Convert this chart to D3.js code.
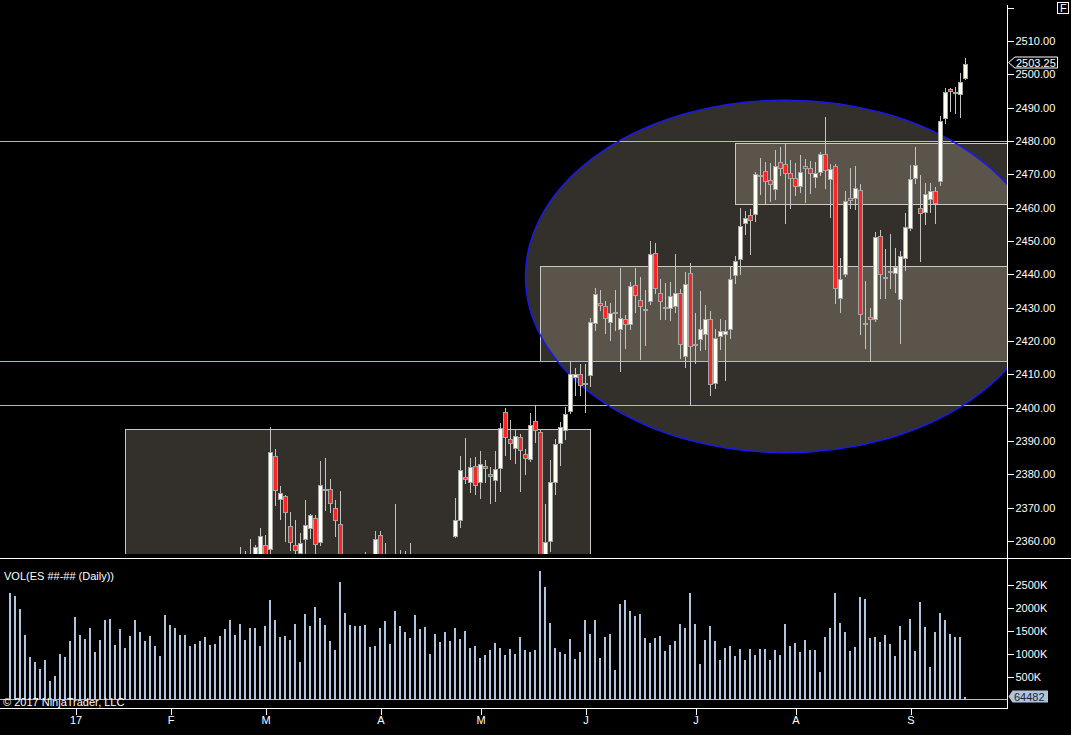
<!DOCTYPE html>
<html>
<head>
<meta charset="utf-8">
<script src="https://cdn.jsdelivr.net/npm/d3@7"></script>
<style>
  html, body { margin: 0; background: #000; overflow: hidden; }
  svg { display: block; }
  text { font-family: Arial, "Liberation Sans", sans-serif; font-size: 11px; fill: #fff; }
</style>
</head>
<body>
<svg id="chart"></svg>
<script>
// daily bars, ES ##-##, mid Dec 2016 to mid Sep 2017 (the early ones sit below the visible price range)
const opens = [
  2262, 2268, 2253, 2260, 2256, 2262, 2263, 2260, 2264, 2261,
  2262, 2250, 2248, 2238, 2255, 2264, 2263, 2272, 2266, 2265,
  2270, 2264, 2270, 2262, 2266, 2260, 2266, 2262, 2277, 2295,
  2292, 2289, 2278, 2276, 2279, 2276, 2294, 2290, 2291, 2305,
  2313, 2316, 2326, 2336, 2346, 2344, 2348, 2354, 2352, 2353,
  2355, 2358.7, 2357.5, 2385.4, 2372.7, 2373.4, 2364.4, 2358.7, 2356.3, 2360.5,
  2363.8, 2366.8, 2359.6, 2375.2, 2375.5, 2369.8, 2365, 2343, 2345, 2343,
  2338, 2339, 2353, 2352, 2361.7, 2354, 2350, 2353, 2345, 2351,
  2353, 2351, 2350, 2340, 2324, 2342, 2335, 2334, 2350, 2361.5,
  2366.2, 2379.1, 2377.6, 2382.4, 2377.6, 2382.4, 2380, 2378.2, 2382, 2398.7,
  2390.5, 2387.8, 2391.1, 2386.2, 2384.7, 2396, 2392.7, 2350, 2360.1, 2377.8,
  2389.5, 2393.2, 2398.9, 2409.2, 2410.1, 2407, 2409.9, 2425.3, 2431.3, 2430.4,
  2425.6, 2428.5, 2423.5, 2426.5, 2425, 2436.7, 2432.2, 2429.5, 2431.9, 2446.3,
  2434.3, 2430, 2429.8, 2430.4, 2434.3, 2415.4, 2440.3, 2418.9, 2420.5, 2422,
  2426.5, 2407.3, 2421.4, 2422, 2423.5, 2439.7, 2444.7, 2455.3, 2457.7, 2458.2,
  2469.5, 2470.9, 2468.2, 2465.5, 2473.6, 2473, 2470.3, 2468.8, 2466.4, 2472.4,
  2471.8, 2469.1, 2470.6, 2476, 2468.5, 2472.4, 2432.8, 2440, 2462.8, 2462.8,
  2465.2, 2425.2, 2427.1, 2426.5, 2451.4, 2439, 2440.8, 2440.3, 2432.5, 2444.8,
  2453.8, 2468.8, 2459.8, 2458.6, 2462.5, 2464.9, 2467.9, 2486.8, 2495.5, 2494.6,
  2494, 2499
];
const highs = [
  2272, 2274, 2265, 2262, 2264, 2266, 2265, 2265, 2266, 2263,
  2264, 2254, 2252, 2260, 2266, 2267, 2278, 2273, 2272, 2272,
  2271, 2272, 2271, 2268, 2268, 2272, 2268, 2280, 2297, 2298,
  2294, 2291, 2282, 2286, 2282, 2296, 2296, 2295, 2307, 2316,
  2318, 2328, 2338, 2348, 2350, 2352, 2358.3, 2357, 2360.6, 2358.8,
  2363.9, 2361.8, 2394.3, 2387.5, 2376.5, 2373.9, 2368.7, 2366.3, 2362.4, 2372.3,
  2368.1, 2367.8, 2384, 2384.9, 2378.6, 2372.3, 2375, 2348, 2352, 2353,
  2344, 2356.7, 2355, 2363, 2363, 2359.4, 2355, 2371.1, 2357.3, 2357,
  2359.4, 2354, 2352, 2344, 2345, 2346, 2347, 2352, 2353, 2372.9,
  2385.5, 2390.9, 2384.9, 2385.2, 2387, 2384.2, 2382.1, 2387, 2395.4, 2399.9,
  2396.3, 2393.3, 2392.1, 2387.6, 2398.4, 2400.8, 2393.3, 2371.1, 2384.3, 2390.6,
  2395.7, 2400.2, 2414, 2411.9, 2413.1, 2413.1, 2426.8, 2435.8, 2435.2, 2431.9,
  2431.3, 2435.2, 2441.8, 2427.7, 2437.6, 2441.8, 2439.1, 2435.2, 2449.9, 2449.3,
  2438.5, 2437.3, 2437.6, 2446, 2435.5, 2440.6, 2443.3, 2428.3, 2434.9, 2430.7,
  2428.9, 2423.5, 2426.5, 2426.2, 2442.1, 2445.4, 2459.8, 2458.9, 2459.5, 2470.6,
  2474.8, 2473.6, 2473.3, 2477.2, 2478.1, 2479.3, 2474.2, 2473.3, 2475.7, 2474.5,
  2473.9, 2473.6, 2476.6, 2487.2, 2473.2, 2473, 2444.8, 2464.9, 2471.8, 2472.4,
  2467, 2437.9, 2429.8, 2452.6, 2453.2, 2447.5, 2452, 2447.8, 2446.9, 2458.3,
  2472.7, 2478.1, 2469.7, 2467.3, 2467.3, 2466.1, 2487.4, 2495.8, 2496, 2496.3,
  2500.3, 2504.8
];
const lows = [
  2258, 2250, 2251, 2250, 2254, 2257, 2258, 2256, 2259, 2256,
  2248, 2244, 2233, 2235, 2252, 2256, 2258, 2264, 2262, 2255,
  2252, 2261, 2258, 2257, 2256, 2258, 2252, 2260, 2276, 2288,
  2285, 2268, 2266, 2271, 2270, 2274, 2280, 2283, 2289, 2303,
  2307, 2313, 2322, 2332, 2338, 2341, 2346, 2350, 2349, 2350,
  2353, 2352, 2356, 2370.8, 2366.6, 2360.1, 2357.3, 2352, 2354, 2355,
  2360.8, 2354, 2358.9, 2369.3, 2368.7, 2361.5, 2341, 2336, 2340, 2338,
  2322, 2333, 2348, 2350, 2350, 2345, 2345, 2344, 2341, 2344,
  2345, 2338, 2336, 2322, 2322, 2329, 2332, 2332, 2340, 2361.3,
  2364.3, 2377.5, 2374.8, 2374.1, 2373, 2377.8, 2371.5, 2372, 2375, 2385.8,
  2384.7, 2383.5, 2375, 2380.2, 2384, 2389.7, 2352, 2344, 2357, 2374.1,
  2382.8, 2390.6, 2398.3, 2403.8, 2403.8, 2398.7, 2406.6, 2423.2, 2429.2, 2422.3,
  2420.2, 2423.2, 2410.9, 2417.8, 2423.5, 2428.6, 2414.5, 2418.7, 2431, 2434.3,
  2426.5, 2426.5, 2426.2, 2428.6, 2414.8, 2412.1, 2400.7, 2413.3, 2417.2, 2417.5,
  2403.7, 2405.8, 2417.5, 2408.2, 2420.8, 2437.3, 2440.2, 2452, 2446.2, 2456.1,
  2464, 2461, 2461.9, 2462.5, 2469.7, 2455.3, 2459.8, 2463.7, 2464.6, 2461.6,
  2464.3, 2466.1, 2469.7, 2465.8, 2457.3, 2431.3, 2428.6, 2439.5, 2459.8, 2459.5,
  2422, 2417.8, 2414, 2426, 2432.8, 2432.8, 2435.8, 2434.6, 2419.3, 2441.2,
  2453.2, 2467.3, 2443.9, 2455, 2458.6, 2455.3, 2466.9, 2485.5, 2489.1, 2488.3,
  2487.1, 2498.6
];
const closes = [
  2268, 2252, 2260, 2256, 2262, 2263, 2260, 2264, 2261, 2262,
  2250, 2248, 2236, 2255, 2264, 2263, 2272, 2266, 2265, 2270,
  2264, 2270, 2262, 2266, 2260, 2266, 2262, 2277, 2295, 2292,
  2289, 2278, 2276, 2279, 2276, 2294, 2290, 2291, 2305, 2313,
  2316, 2326, 2336, 2346, 2344, 2348, 2354, 2352, 2355, 2358.1,
  2361.4, 2355, 2386.6, 2375.2, 2374.3, 2368.6, 2359.6, 2357.2, 2359.3, 2364.7,
  2367.7, 2359, 2376.7, 2375.6, 2371.3, 2366.2, 2343, 2345, 2343, 2341,
  2339, 2354, 2353, 2360.5, 2354, 2350, 2352, 2345, 2351, 2354,
  2352, 2350, 2340, 2324, 2343, 2335, 2334, 2350, 2346, 2366.2,
  2381.3, 2378.5, 2382.1, 2376.7, 2383, 2381.8, 2379.4, 2381.5, 2393.8, 2391.1,
  2389.3, 2391.4, 2387.2, 2384.8, 2394.7, 2393.2, 2353, 2359.7, 2377.7, 2389.2,
  2394.1, 2398.1, 2410, 2410.2, 2406.8, 2407.3, 2425.6, 2434, 2430.7, 2426.8,
  2428.3, 2428.7, 2426.8, 2425, 2436.4, 2433.7, 2430.4, 2429.7, 2446, 2435.8,
  2431.9, 2430.2, 2433.4, 2434.3, 2419, 2437, 2418.4, 2419.1, 2423.5, 2426.5,
  2407, 2420.8, 2422.9, 2422.9, 2438.5, 2443.9, 2454.5, 2456.8, 2456.2, 2470,
  2469.7, 2467.9, 2467, 2472.4, 2471.8, 2470.3, 2468.8, 2466.4, 2470.6, 2471.8,
  2470.3, 2470.3, 2476, 2471.2, 2471.5, 2435.8, 2438.5, 2461.9, 2462.2, 2465.8,
  2428, 2425.4, 2426.5, 2451.1, 2440, 2439.2, 2441, 2442.1, 2445.4, 2454.1,
  2468.5, 2472.7, 2458.3, 2464, 2464.9, 2461.3, 2485.9, 2494.8, 2495, 2494.8,
  2497.7, 2503.25
];
// volume in thousands
const volumesK = [
  2322, 2257, 1974, 1402, 924, 815, 670, 859, 402, 511,
  989, 924, 1272, 1794, 1402, 1315, 1554, 1033, 1294, 1728,
  1750, 1185, 1533, 1120, 1380, 1728, 1467, 1272, 1380, 1163,
  946, 1837, 1620, 1554, 1402, 1402, 1163, 1207, 1272, 1359,
  1185, 1207, 1380, 1533, 1728, 1402, 1641, 1294, 1554, 1554,
  1163, 1598, 2163, 1728, 1359, 1380, 1294, 1641, 815, 1859,
  1598, 2011, 1772, 1620, 1272, 1076, 2554, 1880, 1620, 1598,
  1598, 1620, 1141, 1163, 1554, 1707, 1207, 1924, 1598, 1467,
  1337, 1837, 1533, 1576, 989, 1424, 1250, 1467, 1272, 1554,
  1315, 1489, 1120, 1163, 902, 967, 1076, 1228, 1120, 967,
  1098, 989, 1359, 1076, 1033, 1076, 2793, 2446, 1663, 1120,
  1033, 989, 1315, 880, 1033, 1728, 1424, 1728, 902, 1359,
  1424, 641, 2076, 2163, 1924, 1815, 1859, 1337, 1228, 1337,
  1380, 1054, 1185, 1272, 1641, 1554, 2315, 1641, 772, 1294,
  1598, 1272, 859, 1120, 1163, 946, 1098, 859, 1098, 967,
  1098, 1098, 859, 1076, 967, 1641, 1163, 1228, 1033, 1294,
  1076, 1076, 598, 1359, 1554, 2315, 1663, 1467, 1054, 1141,
  2235, 2185, 1337, 1359, 1250, 1402, 1207, 946, 1598, 1294,
  1750, 1054, 2120, 1576, 706, 1467, 1880, 1728, 1424, 1359,
  1359, 64.482
];
const lastVolume = 64482;

// month labels and the bar they sit on
const monthBars = [13, 32, 51, 74, 94, 115, 137, 157, 180];
const monthLabels = ['17', 'F', 'M', 'A', 'M', 'J', 'J', 'A', 'S'];

const priceTicks = d3.range(2360, 2521, 10);
const volumeTicks = [500000, 1000000, 1500000, 2000000, 2500000];

// drawing objects, in bar / price units
const hLinePrices = [2480, 2414, 2400.75];
const rectFrom = [23, 106, 145];
const rectTo = [116, null, null];       // null = extends to the right edge
const rectTop = [2393.75, 2442.5, 2479.25];
const rectBottom = [2320, 2414, 2461];
const ellipseBars = [103, 207];
const ellipsePrices = [2386.5, 2492.25];

const W = 1071, H = 735;
const axisX = 1007.5;
const priceTop = 5, priceClipBottom = 554, separatorY = 558.5;
const xAxisY = 708.5;

const svg = d3.select('#chart').attr('width', W).attr('height', H);
svg.append('rect').attr('width', W).attr('height', H).attr('fill', '#000');

const x = d3.scaleLinear().domain([0, 191]).range([10.5, 965.5]);
const y = d3.scaleLinear().domain([2360, 2510]).range([541, 41]);
const yv = d3.scaleLinear().domain([0, 2500000]).range([699.5, 584.5]);

svg.append('defs').append('clipPath').attr('id', 'priceClip')
  .append('rect').attr('x', 0).attr('y', priceTop).attr('width', axisX).attr('height', priceClipBottom - priceTop);

const price = svg.append('g').attr('clip-path', 'url(#priceClip)');

// rectangles
const shadeFill = 'rgb(217,204,183)';
price.append('g').selectAll('rect').data(rectFrom).join('rect')
  .attr('x', (d) => x(d))
  .attr('y', (d, i) => Math.round(y(rectTop[i])) + 0.5)
  .attr('width', (d, i) => (rectTo[i] == null ? axisX + 5 : x(rectTo[i])) - x(d))
  .attr('height', (d, i) => Math.round(y(rectBottom[i])) - Math.round(y(rectTop[i])))
  .attr('fill', shadeFill).attr('fill-opacity', 0.235)
  .attr('stroke', '#c8c8c8').attr('stroke-width', 1)
  .attr('shape-rendering', 'crispEdges');

// horizontal lines
price.append('g').selectAll('line').data(hLinePrices).join('line')
  .attr('x1', 0).attr('x2', axisX)
  .attr('y1', (d) => Math.round(y(d)) + 0.5).attr('y2', (d) => Math.round(y(d)) + 0.5)
  .attr('stroke', '#a4b8dc').attr('stroke-width', 1)
  .attr('shape-rendering', 'crispEdges');

// ellipse
price.append('ellipse')
  .attr('cx', (x(ellipseBars[0]) + x(ellipseBars[1])) / 2)
  .attr('cy', (y(ellipsePrices[0]) + y(ellipsePrices[1])) / 2)
  .attr('rx', (x(ellipseBars[1]) - x(ellipseBars[0])) / 2)
  .attr('ry', (y(ellipsePrices[0]) - y(ellipsePrices[1])) / 2)
  .attr('fill', shadeFill).attr('fill-opacity', 0.235)
  .attr('stroke', '#1818f0').attr('stroke-width', 1.5);

// candles
const bars = d3.range(closes.length).map((i) => ({ i, o: opens[i], h: highs[i], l: lows[i], c: closes[i] }));
const candles = price.append('g').attr('shape-rendering', 'crispEdges');
candles.append('g').selectAll('line').data(bars).join('line')
  .attr('x1', (d) => x(d.i)).attr('x2', (d) => x(d.i))
  .attr('y1', (d) => Math.round(y(d.h))).attr('y2', (d) => Math.round(y(d.l)) + 1)
  .attr('stroke', '#c4c4c4');
candles.append('g').selectAll('rect').data(bars).join('rect')
  .attr('x', (d) => x(d.i) - 2)
  .attr('width', 4)
  .attr('y', (d) => Math.round(y(Math.max(d.o, d.c))) + 0.5)
  .attr('height', (d) => Math.max(1, Math.round(y(Math.min(d.o, d.c))) - Math.round(y(Math.max(d.o, d.c)))))
  .attr('fill', (d) => d.c >= d.o ? '#fffff2' : '#ff2424')
  .attr('stroke', '#a6a6a6');

// volume bars
svg.append('line').attr('x1', 0).attr('x2', axisX).attr('y1', 699.5).attr('y2', 699.5)
  .attr('stroke', '#bcbcbc').attr('shape-rendering', 'crispEdges');
svg.append('g').attr('shape-rendering', 'crispEdges')
  .selectAll('rect').data(volumesK).join('rect')
  .attr('x', (d, i) => x(i) - 1.5)
  .attr('width', 2)
  .attr('y', (d) => yv(d * 1000))
  .attr('height', (d) => yv(0) - yv(d * 1000))
  .attr('fill', '#b0c4de');

// frame lines
svg.append('line').attr('x1', 0).attr('x2', W).attr('y1', separatorY).attr('y2', separatorY)
  .attr('stroke', '#fff').attr('shape-rendering', 'crispEdges');
svg.append('line').attr('x1', axisX).attr('x2', axisX).attr('y1', priceTop).attr('y2', xAxisY)
  .attr('stroke', '#fff').attr('shape-rendering', 'crispEdges');
svg.append('line').attr('x1', 0).attr('x2', axisX).attr('y1', xAxisY).attr('y2', xAxisY)
  .attr('stroke', '#fff').attr('shape-rendering', 'crispEdges');

// price axis
const priceAxis = d3.axisRight(y).tickValues(priceTicks).tickSize(6).tickPadding(2)
  .tickFormat((d) => d === 2520 ? '' : d3.format('.2f')(d));
const pa = svg.append('g').attr('transform', `translate(${axisX},0)`).style('color', '#fff').call(priceAxis);
pa.select('.domain').remove();
pa.selectAll('line').attr('shape-rendering', 'crispEdges');

// volume axis
const volAxis = d3.axisRight(yv).tickValues(volumeTicks).tickSize(6).tickPadding(2)
  .tickFormat((d) => (d / 1000) + 'K');
const va = svg.append('g').attr('transform', `translate(${axisX},0)`).style('color', '#fff').call(volAxis);
va.select('.domain').remove();
va.selectAll('line').attr('shape-rendering', 'crispEdges');

// time axis
const timeAxis = d3.axisBottom(x).tickValues(monthBars).tickSize(6).tickPadding(2)
  .tickFormat((d, i) => monthLabels[i]);
const ta = svg.append('g').attr('transform', `translate(0,${xAxisY})`).style('color', '#fff').call(timeAxis);
ta.select('.domain').remove();
ta.selectAll('line').attr('shape-rendering', 'crispEdges');

// last price marker
const lastClose = closes[closes.length - 1];
const py = Math.round(y(lastClose)) - 1.5;
svg.append('path')
  .attr('d', `M${axisX + 1},${py} L${axisX + 7.5},${py - 5.5} H1057.5 V${py + 5.5} H${axisX + 7.5} Z`)
  .attr('fill', '#000').attr('stroke', '#fff').attr('stroke-width', 1);
svg.append('text').attr('x', 1016).attr('y', py + 4).text(d3.format('.2f')(lastClose));

// last volume marker
const vy = Math.round(yv(lastVolume)) - 0.5;
svg.append('path')
  .attr('d', `M${axisX + 1},${vy} L${axisX + 5},${vy - 6} H1048 V${vy + 6} H${axisX + 5} Z`)
  .attr('fill', '#b0c4de');
svg.append('text').attr('x', 1014).attr('y', vy + 4).style('fill', '#1b2430').text(lastVolume);

// labels
svg.append('text').attr('x', 4).attr('y', 580).text('VOL(ES ##-## (Daily))');
svg.append('text').attr('x', 3).attr('y', 706).text('\u00a9 2017 NinjaTrader, LLC');
svg.append('rect').attr('x', 1057.5).attr('y', 2.5).attr('width', 11).attr('height', 11)
  .attr('fill', 'none').attr('stroke', '#fff').attr('shape-rendering', 'crispEdges');
svg.append('text').attr('x', 1060).attr('y', 12).text('F');
</script>
</body>
</html>
